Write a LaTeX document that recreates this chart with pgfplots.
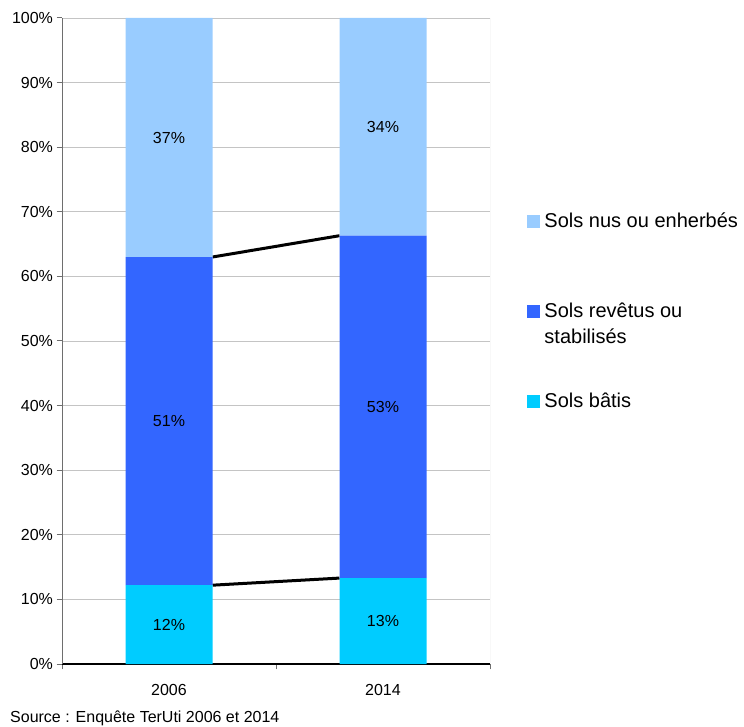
\documentclass[border=0pt]{standalone}
\usepackage{pgfplots}
\pgfplotsset{compat=1.18}
\usepackage{fontspec}
\setmainfont{Liberation Sans}
\definecolor{bati}{HTML}{00CCFF}
\definecolor{revet}{HTML}{3366FF}
\definecolor{nus}{HTML}{99CCFF}
\definecolor{gridc}{HTML}{C4C4C4}
\definecolor{axc}{HTML}{6E6E6E}
\pgfplotsset{sqleg/.style={legend image code/.code={\fill[##1,draw=none] (0pt,0pt) rectangle (13.5pt,13pt);}}}
\begin{document}
\begin{tikzpicture}
\useasboundingbox (0pt,0pt) rectangle (744pt,726pt);
\begin{axis}[
  at={(62pt,62pt)}, anchor=south west,
  scale only axis, width=428pt, height=646pt,
  ybar stacked, bar width=87pt,
  xmin=-0.5, xmax=1.5, ymin=0, ymax=100,
  xtick={-0.5,0.5,1.5}, xticklabels={2006,2014}, x tick label as interval,
  xticklabel style={yshift=-11pt},
  ytick={0,10,...,100},
  yticklabel={\pgfmathprintnumber{\tick}\%},
  /pgf/number format/assume math mode=true,
  tick label style={font=\fontsize{16}{19}\selectfont},
  tick align=outside, tick pos=left, major tick length=5.5pt,
  major tick style={draw=axc, line width=1pt},
  ymajorgrids, major grid style={draw=gridc, line width=0.9pt},
  axis line style={draw=none},
  point meta=explicit symbolic,
  nodes near coords={\pgfplotspointmeta\%},
  nodes near coords style={anchor=center, inner sep=0pt, font=\fontsize{16}{19}\selectfont, text=black},
  reverse legend,
  legend style={at={(1.0864,0.745)}, anchor=north west, draw=none, fill=none,
    inner sep=0pt, outer sep=0pt, column sep=4pt, row sep=0pt,
    font=\fontsize{20}{25.5}\selectfont,
    nodes={inner sep=0pt, outer sep=0pt, text height=45pt, text depth=45pt}, cells={anchor=base west}},
]
\addplot[fill=bati, draw=none, sqleg] coordinates {(0,12.2) [12] (1,13.3) [13]};
\addlegendentry{Sols bâtis}
\addplot[fill=revet, draw=none, sqleg] coordinates {(0,50.8) [51] (1,53.0) [53]};
\addlegendentry{\parbox[t]{200pt}{\raggedright Sols revêtus ou\\stabilisés}}
\addplot[fill=nus, draw=none, sqleg] coordinates {(0,37.0) [37] (1,33.7) [34]};
\addlegendentry{Sols nus ou enherbés}
% series lines
\addplot[sharp plot, stack plots=false, forget plot, black, line width=3pt, mark=none, nodes near coords={}] coordinates {(0.2033,12.2) (0.7967,13.3)};
\addplot[sharp plot, stack plots=false, forget plot, black, line width=3pt, mark=none, nodes near coords={}] coordinates {(0.2033,63.0) (0.7967,66.3)};
\draw[axc, line width=1.6pt] (rel axis cs:0,0) -- (rel axis cs:0,1);
\draw[gridc, line width=1pt] (rel axis cs:1,0) -- (rel axis cs:1,1);
\draw[black, line width=1.2pt] (rel axis cs:0,0) -- (rel axis cs:1,0);
\end{axis}
\node[anchor=base west, inner sep=0pt, font=\fontsize{16}{19}\selectfont] at (10pt,3.5pt) {Source : Enquête TerUti 2006 et 2014};
\end{tikzpicture}
\end{document}
